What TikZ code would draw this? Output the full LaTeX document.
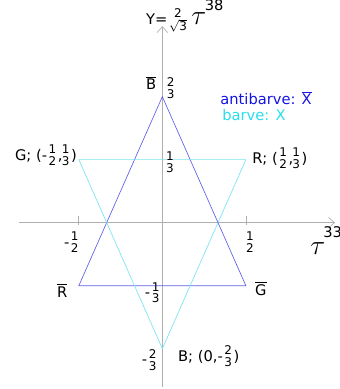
\documentclass[tikz,border=0pt]{standalone}
\usepackage{fontspec}
\setmainfont{DejaVu Sans}
\usepackage{amsmath}
\usetikzlibrary{arrows.meta}
\definecolor{axisgray}{RGB}{175,175,175}
\definecolor{antiblue}{RGB}{95,95,235}
\definecolor{barcyan}{RGB}{120,228,240}
\definecolor{antitext}{RGB}{20,20,230}
\definecolor{bartext}{RGB}{40,222,236}
\newcommand\fr[2]{$\genfrac{}{}{0pt}{}{\mbox{\fontsize{9}{10}\selectfont #1}}{\mbox{\fontsize{9}{10}\selectfont #2}}$}
\newcommand\ovl[1]{$\overline{\mbox{#1}}$}
\begin{document}
\begin{tikzpicture}[x=125.25pt,y=141.75pt,
  lbl/.style={inner sep=0pt,font=\fontsize{11}{13}\selectfont},
  axis/.style={draw=axisgray,line width=0.5pt,-{Straight Barb[length=4.5pt,width=8pt]}},
  anti/.style={draw=antiblue,line width=0.5pt},
  bar/.style={draw=barcyan,line width=0.5pt}]
\useasboundingbox (-0.972,-0.880) rectangle (1.058,1.178);
% axes
\coordinate (xl) at (-0.858,0);
\coordinate (xr) at (1.034,0);
\coordinate (yb) at (0,-0.869);
\coordinate (yt) at (0,1.04);
\draw[axis] (xl) -- (xr);
\draw[axis] (yb) -- (yt);
\foreach \x in {-0.5,0.5}
  \draw[axisgray,line width=0.5pt] (\x,0.035) -- (\x,-0.01);
% antibarve
\coordinate (Bbar) at (0,2/3);
\coordinate (Rbar) at (-0.5,-1/3);
\coordinate (Gbar) at (0.5,-1/3);
\draw[anti] (Bbar) -- (Rbar) -- (Gbar) -- cycle;
% barve
\coordinate (G) at (-0.5,1/3);
\coordinate (R) at (0.5,1/3);
\coordinate (B) at (0,-2/3);
\draw[bar] (G) -- (R) -- (B) -- cycle;
% labels
\node[lbl,anchor=base west] (ylab) at (-0.098,1.046)
  {Y=\fr{2}{$\sqrt{\mbox{3}}$}\kern2pt{\huge$\tau$}\kern-1pt\raisebox{11pt}{38}};
\node[lbl,anchor=base west] (xlab) at (0.885,-0.171)
  {{\huge$\tau$}\kern-1.5pt\raisebox{13pt}{33}};
\node[lbl] (bbarlab) at (-0.067,0.739) {\ovl{B}};
\node[lbl] (ytwo) at (0.05,0.713) {\fr{2}{3}};
\node[lbl,anchor=west,text=antitext] (antilab) at (0.346,0.66) {antibarve: \ovl{X}};
\node[lbl,anchor=west,text=bartext] (barlab) at (0.358,0.57) {barve: X};
\node[lbl,anchor=west] (glab) at (-0.883,0.358) {G; (-\fr{1}{2},\!\fr{1}{3})};
\node[lbl,anchor=west] (rlab) at (0.537,0.342) {R; (\fr{1}{2},\!\fr{1}{3})};
\node[lbl] (yone) at (0.045,0.321) {\fr{1}{3}};
\node[lbl] (xmhalf) at (-0.54,-0.102) {-\fr{1}{2}};
\node[lbl] (xhalf) at (0.525,-0.102) {\fr{1}{2}};
\node[lbl] (rbarlab) at (-0.6,-0.36) {\ovl{R}};
\node[lbl] (gbarlab) at (0.59,-0.35) {\ovl{G}};
\node[lbl] (ymone) at (-0.056,-0.37) {-\fr{1}{3}};
\node[lbl] (ymtwo) at (-0.074,-0.726) {-\fr{2}{3}};
\node[lbl,anchor=west] (blab) at (0.093,-0.707) {B; (0,-\fr{2}{3})};
\end{tikzpicture}
\end{document}
